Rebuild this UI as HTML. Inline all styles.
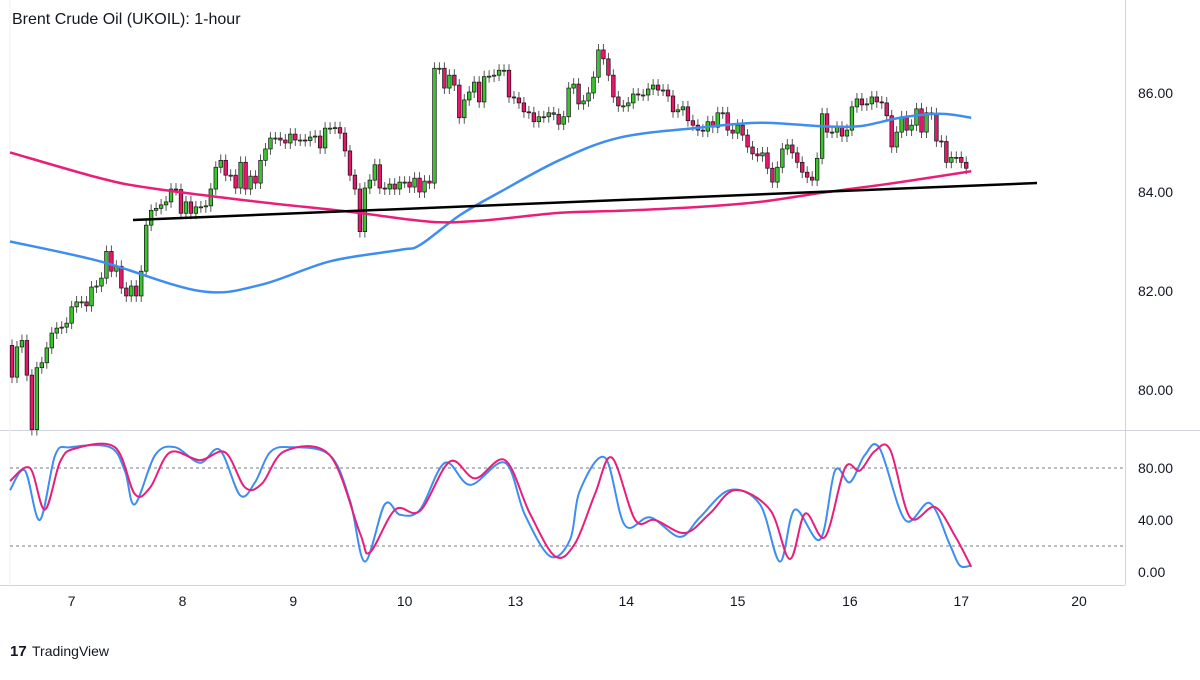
<!DOCTYPE html>
<html><head><meta charset="utf-8"><style>
body{margin:0;background:#fff;font-family:"Liberation Sans",sans-serif;}
svg text{font-family:"Liberation Sans",sans-serif;fill:#131722;}
</style></head><body>
<svg id="c" width="1200" height="675" xmlns="http://www.w3.org/2000/svg">
<rect width="1200" height="675" fill="#fff"/>
<line x1="1125.5" y1="0" x2="1125.5" y2="585" stroke="#d1d4dc"/>
<line x1="0" y1="430.5" x2="1200" y2="430.5" stroke="#d1d4dc"/>
<line x1="0" y1="585.5" x2="1125" y2="585.5" stroke="#d1d4dc"/>
<line x1="10" y1="0" x2="10" y2="585" stroke="#eef0f3"/>
<text x="12" y="24" font-size="16">Brent Crude Oil (UKOIL): 1-hour</text>
<g id="grid"></g><g id="candles"></g><g id="lines"></g><g id="axes"></g>
<g>
<text x="10" y="656" font-size="15" font-weight="bold">17</text>
<text x="32" y="656" font-size="14">TradingView</text>
</g>
</svg>
<script>
const closes=[80.26,80.87,81.0,80.3,79.2,80.45,80.55,80.85,81.15,81.25,81.27,81.35,81.68,81.78,81.78,81.7,82.08,82.1,82.26,82.8,82.4,82.5,82.06,81.9,82.1,81.9,82.4,83.33,83.63,83.67,83.74,83.8,84.06,84.05,83.57,83.8,83.57,83.7,83.7,83.72,84.06,84.5,84.64,84.34,84.34,84.08,84.6,84.06,84.32,84.18,84.64,84.87,85.09,85.09,85.05,84.99,85.17,85.05,85.05,85.04,85.11,85.13,84.89,85.29,85.29,85.3,85.19,84.83,84.34,84.06,83.2,84.08,84.24,84.55,84.08,84.06,84.16,84.06,84.2,84.2,84.1,84.28,84.0,84.22,84.18,86.5,86.5,86.1,86.36,86.16,85.5,85.86,86.02,86.22,85.82,86.33,86.34,
86.36,86.46,86.46,85.92,85.9,85.8,85.62,85.6,85.42,85.52,85.52,85.6,85.57,85.37,85.52,86.1,86.18,85.78,85.84,86.0,86.32,86.87,86.69,86.36,85.92,85.74,85.74,85.8,85.98,85.96,85.96,86.08,86.16,86.06,86.06,85.94,85.62,85.66,85.72,85.44,85.35,85.25,85.23,85.42,85.31,85.6,85.6,85.25,85.19,85.35,85.15,84.91,84.77,84.73,84.79,84.48,84.2,84.5,84.87,84.95,84.79,84.6,84.4,84.3,84.24,84.68,85.58,85.21,85.21,85.31,85.13,85.25,85.72,85.88,85.76,85.78,85.92,85.82,85.8,85.54,84.91,85.21,85.52,85.25,85.35,85.68,85.21,85.6,85.58,85.03,85.02,84.6,84.7,84.7,84.6,84.48];
const firstOpen=80.9;
const priceTicks=[80,82,84,86];
const priceTickLabels=["80.00","82.00","84.00","86.00"];
const dayLabels=["7","8","9","10","13","14","15","16","17","20"];
const dayIdx=[12,34.3,56.6,79,101.3,123.6,146,168.6,191,214.7];
const maBlueIdx=[-0.4,17.7,37.8,49.9,64,78.1,82.1,90.1,98.2,110.3,122.3,138.4,150.5,162.6,170.6,178.7,186.7,193];
const maBlueVal=[83.0,82.6,82.0,82.12,82.6,82.83,82.93,83.53,84.0,84.65,85.1,85.3,85.4,85.33,85.33,85.5,85.58,85.5];
const maPinkIdx=[-0.4,17.7,27.8,47.9,68,84.1,94.2,110.3,122.3,138.4,150.5,162.6,174.6,186.7,193];
const maPinkVal=[84.8,84.28,84.08,83.82,83.6,83.4,83.42,83.58,83.62,83.7,83.8,83.98,84.14,84.32,84.42];
const stochKIdx=[-0.4,2.6,5.6,8.7,11.7,19.7,22.7,24.7,28.8,32.8,37.8,41.8,45.9,48.9,51.9,55.9,63.9,68,71,75,78.1,82.1,87.1,92.2,99.2,103.2,108.3,112.3,114.3,119.3,123.3,128.4,134.4,138.4,144.4,150.5,154.5,157.5,162.6,165.6,168.6,171.6,174.6,179.7,184.7,188.7,190.7,193];
const stochKVal=[63,78,40,90,96,96,78,52,90,96,84,94,59,69,92,96,90,55,8,52,44,48,84,67,84,44,12,25,63,88,36,42,27,42,63,52,8,48,25,78,69,90,95,40,53,21,5,5];
const stochDIdx=[-0.4,3.6,6.6,9.7,12.7,20.7,24.7,27.8,31.8,37.8,42.9,46.9,50.3,54.9,63.9,70,72,77.1,82.1,88.1,93.2,99.2,104.2,109.3,113.3,117.3,120.7,125.4,129.4,135.4,140.4,145.5,152.5,156.5,159.6,163.6,167.6,170.6,173.6,176.7,180.7,185.7,189.7,193];
const stochDVal=[70,80,48,85,95,96,60,65,92,86,92,65,68,93,90,30,15,48,47,85,72,86,45,12,22,60,88,40,40,30,45,63,48,10,45,27,80,78,93,94,42,50,28,4];
const stochLevels=[0,40,80];
const stochLabels=["0.00","40.00","80.00"];

const NS="http://www.w3.org/2000/svg";
function el(p,t,a){const e=document.createElementNS(NS,t);for(const k in a)e.setAttribute(k,a[k]);p.appendChild(e);return e;}
const xOf=i=>12+i*4.97;
const yP=v=>93+(86-v)*49.5;
const yS=v=>572-v*1.3;
const gC=document.getElementById('candles'),gL=document.getElementById('lines'),gA=document.getElementById('axes'),gG=document.getElementById('grid');

[20,80].forEach(l=>{const ln=el(gG,'line',{x1:10,x2:1125,y1:yS(l),y2:yS(l),stroke:'#787b86','stroke-dasharray':'3,3','stroke-width':1});

});

let prev=firstOpen;
closes.forEach((c,i)=>{const o=prev;prev=c;const x=xOf(i);const up=c>=o;
const hi=Math.max(o,c)+0.12,lo=Math.min(o,c)-0.12;
const w=el(gC,'line',{x1:x,x2:x,y1:yP(hi),y2:yP(lo),stroke:'#555','stroke-width':1});


const t=yP(Math.max(o,c)),b=yP(Math.min(o,c));
const r=el(gC,'rect',{x:x-1.8,y:t,width:3.6,height:Math.max(1,b-t),fill:up?'#3cc42f':'#e5176b',stroke:'#111','stroke-width':0.7});

});

function smooth(pts){let d='M'+pts[0][0]+','+pts[0][1];
for(let i=0;i<pts.length-1;i++){const p0=pts[Math.max(0,i-1)],p1=pts[i],p2=pts[i+1],p3=pts[Math.min(pts.length-1,i+2)];
const c1x=p1[0]+(p2[0]-p0[0])/6,c1y=p1[1]+(p2[1]-p0[1])/6,c2x=p2[0]-(p3[0]-p1[0])/6,c2y=p2[1]-(p3[1]-p1[1])/6;
d+=' C'+c1x+','+c1y+' '+c2x+','+c2y+' '+p2[0]+','+p2[1];}return d;}
function poly(idx,val,yf,color,w,name){const pts=idx.map((i,k)=>[xOf(i),yf(val[k])]);
const p=el(gL,'path',{d:smooth(pts),fill:'none',stroke:color,'stroke-width':w,'stroke-linejoin':'round'});

}
poly(maBlueIdx,maBlueVal,yP,'#3d8ef0',2.5,'ma-blue');
poly(maPinkIdx,maPinkVal,yP,'#e91e7a',2.5,'ma-pink');
const tl=el(gL,'line',{x1:133,y1:220,x2:1037,y2:183,stroke:'#000','stroke-width':2.5});


poly(stochKIdx,stochKVal,yS,'#3d8ef0',2,'stoch-k');
poly(stochDIdx,stochDVal,yS,'#e91e7a',2,'stoch-d');

priceTicks.forEach((v,k)=>{const t=el(gA,'text',{x:1138,y:yP(v)+5,'font-size':14});t.textContent=priceTickLabels[k];

});
stochLevels.forEach((v,k)=>{const t=el(gA,'text',{x:1138,y:yS(v)+5,'font-size':14});t.textContent=stochLabels[k];

});
dayLabels.forEach((d,k)=>{const t=el(gA,'text',{x:xOf(dayIdx[k]),y:606,'font-size':14,'text-anchor':'middle'});t.textContent=d;

});
</script>
</body></html>
